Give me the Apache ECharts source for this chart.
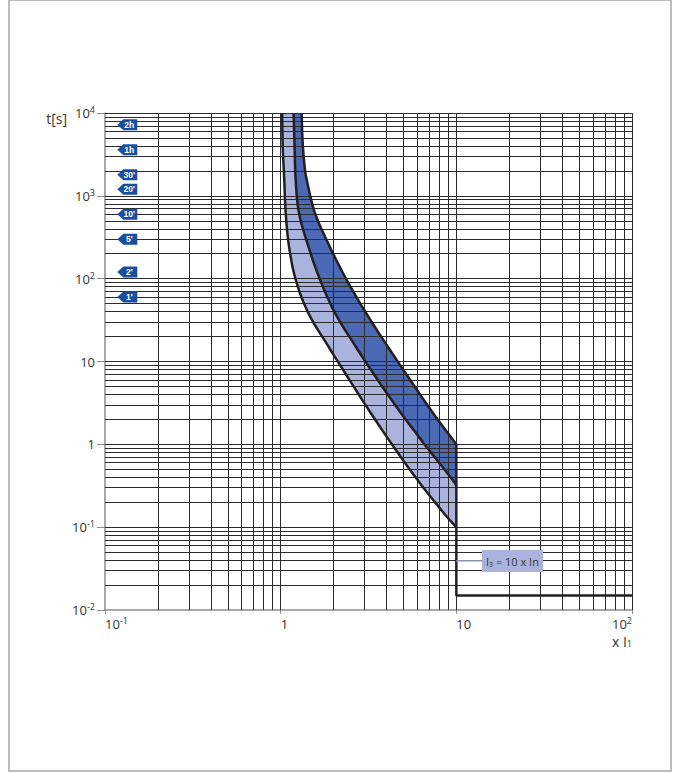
<!DOCTYPE html>
<html>
<head>
<meta charset="utf-8">
<script src="https://cdn.jsdelivr.net/npm/echarts@6/dist/echarts.min.js"></script>
<style>
  html, body { margin: 0; padding: 0; background: #fff; }
  #chart { width: 678px; height: 773px; }
</style>
</head>
<body>
<div id="chart"></div>
<script>
// Tripping characteristic: multiple of I1 (x) against tripping time t[s]
const lowerCurve = [[1.02, 10000], [1.027, 3981], [1.048, 1574], [1.068, 623], [1.115, 247], [1.217, 97.5], [1.436, 38.6], [1.866, 15.3], [2.457, 6.05], [3.257, 2.39], [4.374, 0.95], [5.99, 0.375], [8.48, 0.148], [10, 0.1]];
const middleCurve = [[1.185, 10000], [1.2, 3981], [1.217, 1574], [1.271, 623], [1.436, 247], [1.674, 97.5], [2.037, 38.6], [2.666, 15.3], [3.556, 6.05], [4.837, 2.39], [6.714, 0.95], [9.5, 0.375], [10, 0.31]];
const upperCurve = [[1.317, 10000], [1.33, 5000], [1.362, 2505], [1.406, 1574], [1.567, 623], [1.896, 247], [2.369, 97.5], [3.059, 38.6], [4.054, 15.3], [5.444, 6.05], [7.358, 2.39], [10, 1.0]];
const instantaneous = [[10, 1.0], [10, 0.015], [100, 0.015]];
const i3Marker = [[10, 0.039], [14, 0.039]];

// time markers on the left edge
const timeMarks = [7200, 3600, 1800, 1200, 600, 300, 120, 60];
const timeMarkLabels = ['2h', '1h', "30'", "20'", "10'", "5'", "2'", "1'"];
const timeMarkX = 0.134;

// axis ticks
const xTickValues = [0.1, 1, 10, 100];
const xTickLabels = ['10{sup|-1}', '1', '10', '10{sup|2}'];
const yTickValues = [0.01, 0.1, 1, 10, 100, 1000, 10000];
const yTickLabels = ['10{sup|-2}', '10{sup|-1}', '1', '10', '10{sup|2}', '10{sup|3}', '10{sup|4}'];
const xDecades = [0.1, 1, 10];
const yDecades = [0.01, 0.1, 1, 10, 100, 1000];
const gridMultipliers = [1, 2, 3, 4, 5, 6, 7, 8, 9];

const FONT = '"Open Sans", "Noto Sans", sans-serif';
const INK = '#231f20';
const TEXT = '#333';
const AXIS_GREY = '#8c8c8c';
const LIGHT_BAND = '#aab3db';
const DARK_BAND = '#4b69b4';
const TAG_BLUE = '#1a4f9f';

function tickLabel(values, labels) {
  return function (v) {
    const e = Math.log10(v);
    for (let i = 0; i < values.length; i++) {
      if (Math.abs(Math.log10(values[i]) - e) < 1e-6) return labels[i];
    }
    return '';
  };
}

// grid lines at 1..9 of every decade, drawn above the bands
const gridLines = [];
xDecades.forEach(d => gridMultipliers.forEach(m => { if (d * m > 0.1 + 1e-9) gridLines.push({ xAxis: d * m }); }));
gridLines.push({ xAxis: 100 });
yDecades.forEach(d => gridMultipliers.forEach(m => { if (d * m > 0.01 + 1e-9) gridLines.push({ yAxis: d * m }); }));
gridLines.push({ yAxis: 10000 });

// Catmull-Rom spline through screen points, so edges and fills share one smooth outline
function spline(pts, steps) {
  const out = [];
  const n = pts.length;
  for (let i = 0; i < n - 1; i++) {
    const p0 = pts[Math.max(i - 1, 0)], p1 = pts[i], p2 = pts[i + 1], p3 = pts[Math.min(i + 2, n - 1)];
    const c1 = [p1[0] + (p2[0] - p0[0]) / 6, p1[1] + (p2[1] - p0[1]) / 6];
    const c2 = [p2[0] - (p3[0] - p1[0]) / 6, p2[1] - (p3[1] - p1[1]) / 6];
    for (let s = 0; s < steps; s++) {
      const t = s / steps, u = 1 - t;
      out.push([
        u * u * u * p1[0] + 3 * u * u * t * c1[0] + 3 * u * t * t * c2[0] + t * t * t * p2[0],
        u * u * u * p1[1] + 3 * u * u * t * c1[1] + 3 * u * t * t * c2[1] + t * t * t * p2[1]
      ]);
    }
  }
  out.push(pts[n - 1]);
  return out;
}

function screen(api, curve) {
  return spline(curve.map(p => api.coord(p)), 12);
}

function band(name, edgeA, edgeB, color) {
  return {
    type: 'custom',
    name: name,
    data: edgeA.concat(edgeB),
    z: 2,
    silent: true,
    animation: false,
    renderItem: function (params, api) {
      if (params.dataIndex !== 0) return null;
      const pts = screen(api, edgeA).concat(screen(api, edgeB).reverse());
      return { type: 'polygon', shape: { points: pts }, style: { fill: color } };
    }
  };
}

function edge(name, curve) {
  return {
    type: 'custom',
    name: name,
    data: curve,
    z: 6,
    silent: true,
    animation: false,
    renderItem: function (params, api) {
      if (params.dataIndex !== 0) return null;
      return {
        type: 'polyline',
        shape: { points: screen(api, curve) },
        style: { fill: null, stroke: INK, lineWidth: 2.5, lineJoin: 'round' }
      };
    }
  };
}

const chart = echarts.init(document.getElementById('chart'), null, { renderer: 'svg' });

chart.setOption({
  animation: false,
  backgroundColor: '#fff',
  grid: { left: 105, right: 46, top: 113, bottom: 163 },
  graphic: [{
    type: 'rect',
    silent: true,
    z: -10,
    shape: { x: 9, y: 0, width: 662, height: 771 },
    style: { fill: 'none', stroke: '#a8a8a8', lineWidth: 1.5 }
  }],
  xAxis: {
    type: 'log',
    logBase: 10,
    min: 0.1,
    max: 100,
    axisLine: { show: true, lineStyle: { color: AXIS_GREY, width: 1.5 } },
    axisTick: { show: true, length: 4, lineStyle: { color: AXIS_GREY } },
    splitLine: { show: false },
    minorTick: { show: false },
    axisLabel: {
      margin: 6,
      align: 'left',
      alignMaxLabel: 'right',
      fontSize: 13,
      lineHeight: 16,
      color: TEXT,
      fontFamily: FONT,
      formatter: tickLabel(xTickValues, xTickLabels),
      rich: { sup: { fontSize: 9, lineHeight: 11, verticalAlign: 'top', color: TEXT, fontFamily: FONT } }
    },
    name: 'x I{sub|1}',
    nameLocation: 'end',
    nameGap: 0,
    nameMoveOverlap: false,
    nameTextStyle: {
      align: 'right',
      verticalAlign: 'top',
      padding: [24, 0, 0, 0],
      fontSize: 14,
      lineHeight: 14,
      color: TEXT,
      fontFamily: FONT,
      rich: { sub: { fontSize: 9, lineHeight: 10, verticalAlign: 'bottom', color: TEXT, fontFamily: FONT } }
    }
  },
  yAxis: {
    type: 'log',
    logBase: 10,
    min: 0.01,
    max: 10000,
    axisLine: { show: true, lineStyle: { color: AXIS_GREY, width: 1.5 } },
    axisTick: { show: true, length: 8, lineStyle: { color: AXIS_GREY } },
    splitLine: { show: false },
    minorTick: { show: false },
    axisLabel: {
      margin: 10,
      fontSize: 13,
      lineHeight: 16,
      color: TEXT,
      fontFamily: FONT,
      formatter: tickLabel(yTickValues, yTickLabels),
      rich: { sup: { fontSize: 9, lineHeight: 11, verticalAlign: 'top', color: TEXT, fontFamily: FONT } }
    },
    name: 't[s]',
    nameLocation: 'end',
    nameGap: -5,
    nameMoveOverlap: false,
    nameTextStyle: {
      align: 'right',
      verticalAlign: 'middle',
      padding: [0, 38, 0, 0],
      fontSize: 14,
      color: TEXT,
      fontFamily: FONT
    }
  },
  series: [
    band('lower band', lowerCurve, middleCurve, LIGHT_BAND),
    band('upper band', middleCurve, upperCurve, DARK_BAND),
    edge('minimum', lowerCurve),
    edge('mean', middleCurve),
    edge('maximum', upperCurve),
    {
      type: 'line',
      name: 'instantaneous',
      data: instantaneous,
      symbol: 'none',
      lineStyle: { color: INK, width: 2.5 },
      z: 6,
      silent: true,
      markLine: {
        silent: true,
        z: 3,
        symbol: ['none', 'none'],
        label: { show: false },
        emphasis: { disabled: true },
        animation: false,
        lineStyle: { color: '#2b2b2b', width: 1, type: 'solid' },
        data: gridLines
      }
    },
    {
      type: 'line',
      name: 'I3',
      data: [
        { value: i3Marker[0] },
        {
          value: i3Marker[1],
          label: {
            show: true,
            position: 'right',
            distance: 0,
            formatter: 'I{sub|3} = 10 x In',
            backgroundColor: LIGHT_BAND,
            padding: [4, 4, 4, 4],
            color: TEXT,
            fontSize: 11,
            lineHeight: 14,
            fontFamily: FONT,
            rich: { sub: { fontSize: 7, lineHeight: 9, verticalAlign: 'bottom', color: TEXT, fontFamily: FONT } }
          }
        }
      ],
      symbol: 'circle',
      symbolSize: 0,
      showSymbol: true,
      lineStyle: { color: LIGHT_BAND, width: 1.5 },
      z: 7,
      silent: true
    },
    {
      type: 'scatter',
      name: 'time marks',
      data: timeMarks.map((t, i) => ({ value: [timeMarkX, t], label: { formatter: timeMarkLabels[i] } })),
      symbol: 'path://M0,5L6,0L20,0L20,10L6,10Z',
      symbolSize: [20, 11],
      itemStyle: { color: TAG_BLUE, opacity: 1 },
      label: {
        show: true,
        position: 'inside',
        offset: [2, 0],
        color: '#fff',
        fontSize: 8.5,
        fontWeight: 'bold',
        fontFamily: '"Liberation Sans", sans-serif'
      },
      z: 7,
      silent: true
    }
  ]
});
</script>
</body>
</html>
